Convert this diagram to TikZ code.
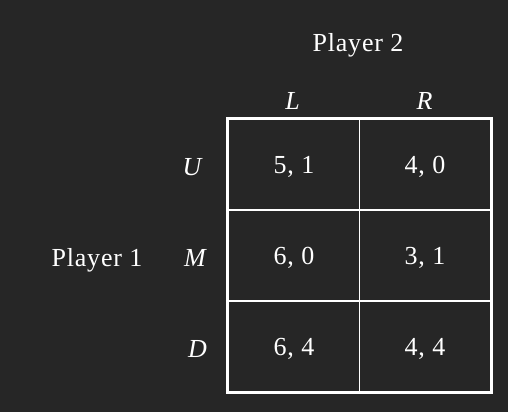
\documentclass[tikz,border=0pt]{standalone}
\usepackage{fontspec}
\setmainfont{Liberation Serif}[LetterSpace=3]
\definecolor{bg}{HTML}{262626}
\begin{document}
\begin{tikzpicture}[x=1pt,y=-1pt,
  txt/.style={text=white,font=\fontsize{26}{28}\selectfont,inner sep=0pt,anchor=base},
  cell/.style={draw=white,line width=1.8pt,minimum width=131pt,minimum height=91pt,inner sep=0pt},
  val/.style={text=white,font=\fontsize{26}{28}\selectfont,inner sep=0pt,anchor=base}]
\fill[bg] (0,0) rectangle (508,412);
\useasboundingbox (0,0) rectangle (508,412);
\node[cell] (c11) at (294,164.5) {};
\node[cell] (c12) at (425,164.5) {};
\node[cell] (c21) at (294,255.5) {};
\node[cell] (c22) at (425,255.5) {};
\node[cell] (c31) at (294,346.5) {};
\node[cell] (c32) at (425,346.5) {};
\draw[white,line width=3pt] (c11.north west) rectangle (c32.south east);
\node[val] (v11) at ([yshift=-9pt]c11.center) {5, 1};
\node[val] (v12) at ([yshift=-9pt]c12.center) {4, 0};
\node[val] (v21) at ([yshift=-9pt]c21.center) {6, 0};
\node[val] (v22) at ([yshift=-9pt]c22.center) {3, 1};
\node[val] (v31) at ([yshift=-9pt]c31.center) {6, 4};
\node[val] (v32) at ([yshift=-9pt]c32.center) {4, 4};
\node[txt] (p2) at (358,52) {Player 2};
\node[txt] (L) at (293,109) {\textit{L}};
\node[txt] (R) at (425,109) {\textit{R}};
\node[txt] (U) at (193,175) {\textit{U}};
\node[txt] (M) at (196,266) {\textit{M}};
\node[txt] (D) at (198,357) {\textit{D}};
\node[txt] (p1) at (97,266) {Player 1};
\end{tikzpicture}
\end{document}
